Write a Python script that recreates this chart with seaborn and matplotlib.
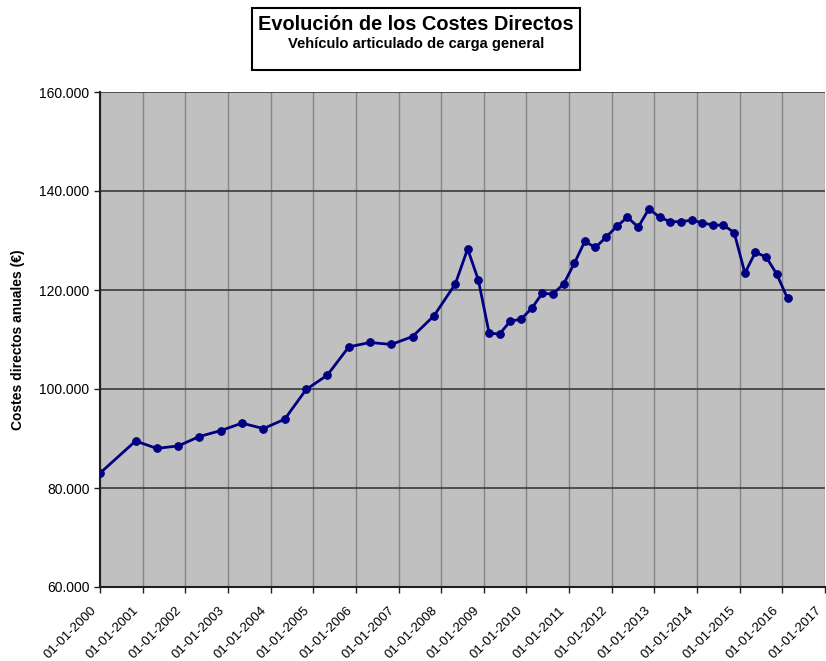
import matplotlib
matplotlib.use("Agg")
import matplotlib.pyplot as plt
import matplotlib.dates as mdates
import matplotlib.ticker as mticker
import matplotlib.transforms as mtransforms
from matplotlib.patches import Rectangle
import seaborn as sns
import pandas as pd

# ---- data ----
fechas = [
    "2000-01-01", "2000-11-01", "2001-05-01", "2001-11-01", "2002-05-01", "2002-11-01",
    "2003-05-01", "2003-11-01", "2004-05-01", "2004-11-01", "2005-05-01", "2005-11-01",
    "2006-05-01", "2006-11-01", "2007-05-01", "2007-11-01", "2008-05-01", "2008-08-15",
    "2008-11-15", "2009-02-15", "2009-05-15", "2009-08-15", "2009-11-15", "2010-02-15",
    "2010-05-15", "2010-08-15", "2010-11-15", "2011-02-15", "2011-05-15", "2011-08-15",
    "2011-11-15", "2012-02-15", "2012-05-15", "2012-08-15", "2012-11-15", "2013-02-15",
    "2013-05-15", "2013-08-15", "2013-11-15", "2014-02-15", "2014-05-15", "2014-08-15",
    "2014-11-15", "2015-02-15", "2015-05-15", "2015-08-15", "2015-11-15", "2016-02-15",
]
costes = [
    83000, 89500, 88000, 88500, 90400, 91600,
    93100, 92000, 93900, 99900, 102800, 108500,
    109400, 109000, 110600, 114800, 121200, 128300,
    122000, 111300, 111100, 113700, 114100, 116300,
    119300, 119200, 121200, 125400, 129800, 128600,
    130700, 132900, 134700, 132700, 136400, 134700,
    133800, 133800, 134100, 133600, 133100, 133100,
    131600, 123400, 127600, 126700, 123200, 118300,
]
anios_ticks = list(range(2000, 2018))
y_ticks = [60000, 80000, 100000, 120000, 140000, 160000]

titulo = "Evolución de los Costes Directos"
subtitulo = "Vehículo articulado de carga general"
etiqueta_y = "Costes directos anuales (€)"

df = pd.DataFrame({"fecha": pd.to_datetime(fechas), "coste": costes})

sns.set_style("white")
plt.rcParams["font.family"] = ["Liberation Sans", "DejaVu Sans"]

fig = plt.figure(figsize=(8.26, 6.61), dpi=100)
ax = fig.add_axes([100 / 826, 1 - 587 / 661, 725 / 826, (587 - 92) / 661])
ax.set_facecolor("#c0c0c0")

sns.lineplot(data=df, x="fecha", y="coste", ax=ax, color="#000080",
             marker="o", markersize=5.5, markeredgecolor="#000080",
             linewidth=2, zorder=3)

ax.set_xlim(pd.Timestamp("2000-01-01"), pd.Timestamp("2017-01-01"))
ax.set_ylim(y_ticks[0], y_ticks[-1])
ax.set_xticks([pd.Timestamp(f"{a}-01-01") for a in anios_ticks])
ax.xaxis.set_major_formatter(mdates.DateFormatter("%d-%m-%Y"))
ax.set_yticks(y_ticks)
ax.yaxis.set_major_formatter(mticker.FuncFormatter(lambda v, p: f"{int(v):,}".replace(",", ".")))

ax.grid(axis="y", color="#3a3a3a", linewidth=1.2, zorder=1)
ax.grid(axis="x", color="#858585", linewidth=1.0, zorder=1)
ax.set_axisbelow(True)

for s in ["top", "right"]:
    ax.spines[s].set_visible(False)
for s in ["left", "bottom"]:
    ax.spines[s].set_color("#202020")
    ax.spines[s].set_linewidth(1.5)

ax.tick_params(axis="both", direction="out", length=4, width=1, color="#202020",
               labelsize=10, labelcolor="black", bottom=True, left=True)
offset = mtransforms.ScaledTranslation(-10 / 100, -7 / 100, fig.dpi_scale_trans)
for lab in ax.get_xticklabels():
    lab.set_rotation(45)
    lab.set_ha("right")
    lab.set_rotation_mode("anchor")
    lab.set_fontsize(9.5)
    lab.set_transform(lab.get_transform() + offset)

ax.set_xlabel("")
ax.set_ylabel(etiqueta_y, fontsize=10, fontweight="bold", labelpad=10, color="black")

# title box
fig.patches.append(Rectangle((252 / 826, 1 - 70 / 661), (580 - 252) / 826, (70 - 8) / 661,
                             transform=fig.transFigure, facecolor="white",
                             edgecolor="black", linewidth=1.5, zorder=0))
fig.text(416 / 826, 1 - 24 / 661, titulo, ha="center", va="center",
         fontsize=14.4, fontweight="bold", color="black")
fig.text(416 / 826, 1 - 44 / 661, subtitulo, ha="center", va="center",
         fontsize=10.6, fontweight="bold", color="black")

fig.savefig("out.png", dpi=100)
